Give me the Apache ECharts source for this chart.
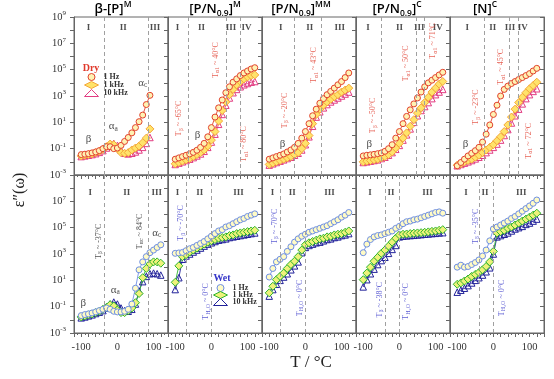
<!DOCTYPE html>
<html><head><meta charset="utf-8">
<script src="https://cdn.jsdelivr.net/npm/echarts@6/dist/echarts.min.js"></script>
<style>html,body{margin:0;padding:0;background:#fff}#c{width:554px;height:379px}</style>
</head><body><div id="c"></div>
<script>
// ---------- temperatures (°C) ----------
const tempsDryBP = [-100,-90,-80,-70,-60,-50,-40,-30,-20,-10,0,10,20,30,40,50,60,70,80,90];
const temps = [-100,-90,-80,-70,-60,-50,-40,-30,-20,-10,0,10,20,30,40,50,60,70,80,90,100,110,120];

// ---------- log10 ε'' values, DRY (top row) ----------
const dry_bPM_1Hz   = [-1.45,-1.42,-1.38,-1.32,-1.25,-1.15,-1.0,-0.85,-0.85,-1.0,-0.95,-0.75,-0.45,-0.15,0.2,0.6,1.05,1.55,2.35,3.05];
const dry_bPM_1kHz  = [-1.55,-1.5,-1.45,-1.4,-1.3,-1.2,-1.05,-0.85,-0.65,-0.7,-1.0,-1.3,-1.35,-1.3,-1.1,-0.95,-0.8,-0.55,-0.2,0.5];
const dry_bPM_10kHz = [-1.6,-1.55,-1.5,-1.45,-1.38,-1.28,-1.15,-0.95,-0.75,-0.6,-0.75,-1.1,-1.35,-1.4,-1.35,-1.25,-1.1,-0.9,-0.6,-0.15];

const dry_PNM_1Hz   = [-1.8,-1.7,-1.6,-1.5,-1.4,-1.28,-1.12,-0.9,-0.6,-0.1,0.6,1.4,2.1,2.7,3.25,3.7,4.05,4.3,4.55,4.75,4.9,5.05,5.15];
const dry_PNM_1kHz  = [-2.15,-2.05,-1.95,-1.85,-1.75,-1.6,-1.45,-1.3,-1.1,-0.8,-0.35,0.3,1.1,1.9,2.55,3.1,3.5,3.85,4.1,4.3,4.45,4.55,4.6];
const dry_PNM_10kHz = [-2.2,-2.1,-2.0,-1.9,-1.8,-1.68,-1.55,-1.4,-1.2,-0.9,-0.5,0.1,0.85,1.6,2.3,2.85,3.25,3.5,3.7,3.85,3.95,4.05,4.1];

const dry_PNMM_1Hz   = [-1.8,-1.7,-1.6,-1.5,-1.4,-1.25,-1.1,-0.9,-0.6,-0.2,0.3,0.9,1.5,2.0,2.45,2.8,3.1,3.35,3.6,3.85,4.1,4.4,4.75];
const dry_PNMM_1kHz  = [-2.2,-2.1,-2.0,-1.9,-1.8,-1.7,-1.6,-1.45,-1.3,-1.0,-0.6,0.0,0.9,1.6,2.0,2.3,2.55,2.75,2.95,3.1,3.3,3.45,3.6];
const dry_PNMM_10kHz = [-2.25,-2.15,-2.05,-1.95,-1.85,-1.75,-1.65,-1.5,-1.35,-1.1,-0.7,-0.1,0.7,1.4,1.8,2.1,2.35,2.55,2.7,2.85,3.0,3.15,3.3];

const dry_PNC_1Hz   = [-1.55,-1.5,-1.47,-1.43,-1.38,-1.32,-1.2,-1.0,-0.7,-0.2,0.3,0.9,1.45,1.95,2.4,2.85,3.3,3.7,4.0,4.2,4.4,4.6,4.8];
const dry_PNC_1kHz  = [-2.0,-1.95,-1.9,-1.85,-1.8,-1.7,-1.6,-1.45,-1.25,-0.95,-0.6,-0.2,0.2,0.7,1.2,1.7,2.1,2.5,2.9,3.3,3.6,3.9,4.1];
const dry_PNC_10kHz = [-2.05,-2.0,-1.95,-1.9,-1.85,-1.75,-1.65,-1.5,-1.3,-1.05,-0.75,-0.35,0.05,0.5,1.0,1.5,1.9,2.2,2.5,2.8,3.1,3.3,3.5];

const dry_NC_1Hz   = [-2.3,-2.05,-1.8,-1.55,-1.35,-1.15,-0.9,-0.5,0.1,0.8,1.6,2.3,3.0,3.5,3.75,3.95,4.1,4.25,4.4,4.55,4.7,4.9,5.1];
const dry_NC_1kHz  = [-2.25,-2.15,-2.0,-1.9,-1.8,-1.65,-1.5,-1.3,-1.1,-0.9,-0.7,-0.4,-0.1,0.3,0.8,1.4,2.0,2.5,2.9,3.25,3.55,3.8,4.05];
const dry_NC_10kHz = [-2.3,-2.2,-2.1,-2.0,-1.9,-1.78,-1.65,-1.5,-1.3,-1.1,-0.9,-0.65,-0.35,0.0,0.45,0.95,1.5,2.0,2.4,2.8,3.1,3.35,3.55];

// ---------- log10 ε'' values, WET (bottom row) ----------
const wet_bPM_1Hz   = [-1.68,-1.6,-1.55,-1.48,-1.4,-1.3,-1.2,-1.1,-1.2,-1.35,-1.4,-1.4,-1.35,-1.2,-0.8,0.4,1.8,2.4,2.8,3.1,3.3,3.5,3.7];
const wet_bPM_1kHz  = [-1.78,-1.7,-1.62,-1.55,-1.45,-1.35,-1.2,-1.05,-0.85,-0.95,-1.25,-1.45,-1.45,-1.3,-1.1,-0.7,0.0,1.2,1.9,2.25,2.4,2.4,2.3];
const wet_bPM_10kHz = [-1.85,-1.78,-1.7,-1.62,-1.52,-1.42,-1.3,-1.1,-0.8,-0.65,-0.8,-1.1,-1.3,-1.35,-1.2,-0.8,0.2,0.9,1.3,1.5,1.55,1.5,1.4];

const wet_PNM_1Hz   = [3.05,3.08,3.12,3.25,3.4,3.5,3.65,3.8,3.95,4.15,4.35,4.55,4.75,4.85,5.05,5.15,5.3,5.45,5.6,5.7,5.85,5.95,6.05];
const wet_PNM_1kHz  = [0.85,2.1,2.8,2.95,3.15,3.3,3.45,3.6,3.75,3.9,4.0,4.1,4.2,4.25,4.3,4.4,4.45,4.55,4.6,4.65,4.7,4.75,4.8];
const wet_PNM_10kHz = [0.3,1.2,2.6,2.85,3.0,3.15,3.3,3.45,3.6,3.75,3.85,3.95,4.05,4.1,4.15,4.25,4.3,4.35,4.4,4.45,4.5,4.55,4.6];

const wet_PNMM_1Hz   = [1.25,1.9,2.4,2.6,2.8,3.2,3.55,3.9,4.15,4.35,4.5,4.65,4.75,4.85,4.95,5.05,5.15,5.3,5.45,5.6,5.8,5.95,6.15];
const wet_PNMM_1kHz  = [0.05,0.55,1.05,1.3,1.55,1.9,2.2,2.45,2.8,3.3,3.7,3.85,3.95,4.05,4.15,4.2,4.3,4.35,4.45,4.5,4.55,4.65,4.75];
const wet_PNMM_10kHz = [-0.2,0.3,0.7,1.0,1.25,1.5,1.8,2.1,2.4,3.1,3.5,3.65,3.75,3.85,3.9,4.0,4.1,4.15,4.25,4.3,4.4,4.45,4.55];

const wet_PNC_1Hz   = [3.1,3.75,4.1,4.3,4.4,4.45,4.55,4.65,4.75,4.95,5.1,5.3,5.45,5.5,5.6,5.65,5.75,5.85,5.95,6.05,6.15,6.2,6.1];
const wet_PNC_1kHz  = [1.05,1.55,2.0,2.45,2.75,3.05,3.3,3.6,3.9,4.2,4.45,4.5,4.52,4.55,4.58,4.6,4.62,4.65,4.68,4.72,4.75,4.8,4.85];
const wet_PNC_10kHz = [0.5,1.05,1.5,1.85,2.2,2.5,2.75,3.05,3.35,3.65,4.3,4.35,4.38,4.4,4.42,4.45,4.47,4.5,4.52,4.55,4.57,4.6,4.62];

const wet_NC_1Hz   = [2.0,2.15,2.0,2.05,2.2,2.35,2.55,2.85,3.3,4.0,4.9,5.05,5.2,5.35,5.5,5.7,5.85,6.05,6.25,6.45,6.65,6.85,7.1];
const wet_NC_1kHz  = [0.7,0.8,0.95,1.1,1.3,1.45,1.6,1.8,2.05,2.4,3.2,4.6,4.7,4.8,4.95,5.05,5.2,5.35,5.5,5.65,5.8,5.95,6.1];
const wet_NC_10kHz = [0.1,0.25,0.4,0.6,0.8,1.0,1.2,1.4,1.65,1.95,3.0,4.3,4.4,4.5,4.6,4.75,4.9,5.0,5.1,5.25,5.35,5.5,5.65];

// ---------- labels ----------
const panelTitles = ['{m|β-[P]}{p|M}','{m|[P/N}{b|0.9}{m|]}{p|M}','{m|[P/N}{b|0.9}{m|]}{p|MM}','{m|[P/N}{b|0.9}{m|]}{p|C}','{m|[N]}{p|C}'];
const freqNames = ['1 Hz','1 kHz','10 kHz'];
const yExpTicks = [-3,-1,1,3,5,7,9];
const xTickLabels = [-100,0,100];

// ---------- annotations (text, positions in data units) ----------
const regionLabels = [
 [0,[['I',-80],['II',16],['III',104]]],
 [1,[['I',-94],['II',-27],['III',54],['IV',97]]],
 [2,[['I',-68],['II',12],['III',95]]],
 [3,[['I',-87],['II',0],['III',55],['IV',106]]],
 [4,[['I',-72],['II',-2],['III',46],['IV',81]]],
 [5,[['I',-75],['II',26],['III',109]]],
 [6,[['I',-94],['II',-32],['III',75]]],
 [7,[['I',-91],['II',-36],['III',67]]],
 [8,[['I',-81],['II',-23],['III',78]]],
 [9,[['I',-76],['II',-23],['III',77]]]
];
const dashedLines = [[-37,84],[-65,40,80],[-32,43],[-50,48,69],[-26,43,70],[-37,84],[-70,0],[-70,0],[-38,0],[-38,0]];
const transLabels = [
 [1,-89,1.29,'β',' ~ -65°C'],[1,12,5.73,'α1',' ~ 40°C'],[1,91,-0.65,'α1',' ~ 80°C'],
 [2,-57,1.9,'β',' ~ -20°C'],[2,24,5.35,'α1',' ~ 43°C'],
 [3,-73,1.52,'β',' ~ -50°C'],[3,19,5.48,'α1',' ~ 50°C'],[3,94,7.2,'α1',' ~ 71°C'],
 [4,-47,2.16,'β',' ~ -23°C'],[4,22,5.22,'α1',' ~ 45°C'],[4,98,-0.4,'α1',' ~ 72°C'],
 [5,-52,3.96,'β',' ~ -37°C'],[5,61,4.72,'αc',' ~ 84°C'],
 [6,-84,5.36,'β',' ~ -70°C'],[6,-15,-0.6,'H₂O',' ~ 0°C'],
 [7,-85,5.1,'β',' ~ -70°C'],[7,-16,-0.34,'H₂O',' ~ 0°C'],
 [8,-55,-0.47,'β',' ~ -38°C'],[8,19,-0.6,'H₂O',' ~ 0°C'],
 [9,-49,5.1,'β',' ~ -35°C'],[9,23,-0.34,'H₂O',' ~ 0°C']
];
const relaxLabels = [
 [0,-80,-0.27,'β',''],[0,-11,0.68,'α','a'],[0,70,4.0,'α','c'],
 [1,-38,0.04,'β',''],[2,-63,-0.65,'β',''],[3,-83,-0.65,'β',''],[4,-77,-0.65,'β',''],
 [5,-94,-0.72,'β',''],[5,-6,0.29,'α','a'],[5,109,4.6,'α','c']
];

// ---------- build ----------
const SERIF = "'Liberation Serif','DejaVu Serif',serif";
const SANS = "'Open Sans','Noto Sans',sans-serif";
const AX = '#666';

const panels = [
 {g:0,T:tempsDryBP,d:[dry_bPM_1Hz,dry_bPM_1kHz,dry_bPM_10kHz],wet:false},
 {g:1,T:temps,d:[dry_PNM_1Hz,dry_PNM_1kHz,dry_PNM_10kHz],wet:false},
 {g:2,T:temps,d:[dry_PNMM_1Hz,dry_PNMM_1kHz,dry_PNMM_10kHz],wet:false},
 {g:3,T:temps,d:[dry_PNC_1Hz,dry_PNC_1kHz,dry_PNC_10kHz],wet:false},
 {g:4,T:temps,d:[dry_NC_1Hz,dry_NC_1kHz,dry_NC_10kHz],wet:false},
 {g:5,T:temps,d:[wet_bPM_1Hz,wet_bPM_1kHz,wet_bPM_10kHz],wet:true},
 {g:6,T:temps,d:[wet_PNM_1Hz,wet_PNM_1kHz,wet_PNM_10kHz],wet:true},
 {g:7,T:temps,d:[wet_PNMM_1Hz,wet_PNMM_1kHz,wet_PNMM_10kHz],wet:true},
 {g:8,T:temps,d:[wet_PNC_1Hz,wet_PNC_1kHz,wet_PNC_10kHz],wet:true},
 {g:9,T:temps,d:[wet_NC_1Hz,wet_NC_1kHz,wet_NC_10kHz],wet:true}
];
const styles = {
 dry:[{symbol:'circle',size:6,fill:'#fff2b3',border:'#e2432e'},
      {symbol:'diamond',size:8,fill:'#ffe36a',border:'#f4a73a'},
      {symbol:'triangle',size:6.5,fill:'rgba(255,255,255,0)',border:'#e23c82'}],
 wet:[{symbol:'circle',size:6,fill:'#fffbc6',border:'#6e8fe4'},
      {symbol:'diamond',size:8,fill:'#eef27a',border:'#2eb52e'},
      {symbol:'triangle',size:6.5,fill:'rgba(255,255,255,0)',border:'#22229a'}]
};

const grids=[], xAxes=[], yAxes=[], series=[];
for (let i=0;i<10;i++){
  const row = i<5?0:1, col=i%5;
  grids.push({left:74+col*94, top:row?175:17, width:94, height:158, show:true, borderColor:AX, borderWidth:1});
  xAxes.push({gridIndex:i,type:'value',min:-120,max:140,interval:20,
    axisLine:{show:true,onZero:false,lineStyle:{color:AX}},
    axisTick:{show:true,inside:false,length:4,lineStyle:{color:AX}},
    minorTick:{show:true,splitNumber:2,length:2,lineStyle:{color:AX}},
    splitLine:{show:false},minorSplitLine:{show:false},
    axisLabel:{show:row===1,margin:9,fontFamily:SERIF,fontSize:10.5,color:'#333',
      formatter:v=>xTickLabels.indexOf(v)>=0?String(v):''}});
  yAxes.push({gridIndex:i,type:'value',position:'right',min:-3,max:9,interval:1,
    axisLine:{show:true,onZero:false,lineStyle:{color:AX}},axisTick:{show:true,inside:true,length:4,lineStyle:{color:AX}},
    axisLabel:{show:false},splitLine:{show:false}});
}
const expRich = {b:{fontFamily:SERIF,fontSize:10.5,color:'#333',lineHeight:14},
                 e:{fontFamily:SERIF,fontSize:7,color:'#333',lineHeight:8,verticalAlign:'top'}};
[0,5].forEach(g=>{
  yAxes.push({gridIndex:g,type:'value',position:'left',min:-3,max:9,interval:1,
    axisLine:{show:true,onZero:false,lineStyle:{color:AX}},axisTick:{show:true,inside:false,length:4,lineStyle:{color:AX}},
    splitLine:{show:false},
    axisLabel:{margin:8,rich:expRich,formatter:v=>(yExpTicks.indexOf(v)>=0 && !(g===5&&v===9))?'{b|10}{e|'+v+'}':''}});
});

panels.forEach(p=>{
  const st = p.wet?styles.wet:styles.dry;
  const prefix = p.wet?'Wet ':'Dry ';
  [2,1,0].forEach(k=>{
    const s = st[k];
    series.push({type:'line',name:prefix+freqNames[k],xAxisIndex:p.g,yAxisIndex:p.g,
      data:p.T.map((t,j)=>[t,p.d[k][j]]),symbol:s.symbol,symbolSize:s.size,showAllSymbol:true,
      itemStyle:{color:s.fill,borderColor:s.border,borderWidth:1},
      lineStyle:{color:s.border,width:0.9},silent:true,animation:false,emphasis:{disabled:true}});
  });
});

for (let g=0; g<10; g++){
  const row = g<5?0:1;
  const data=[];
  const rl = regionLabels.find(r=>r[0]===g)[1];
  rl.forEach(([t,x])=>data.push({value:[x,row?7.69:8.18],label:{show:true,position:'inside',formatter:t,
     fontFamily:SERIF,fontSize:9,fontWeight:'bold',color:'#222'}}));
  transLabels.filter(r=>r[0]===g).forEach(([,x,y,sub,txt])=>{
    const c = g<5?'#e0392b':(g===5?'#222':'#3535c8');
    data.push({value:[x,y],label:{show:true,position:'inside',rotate:90,
      formatter:'{t|T}{s|'+sub+'}{t|'+txt+'}',
      rich:{t:{fontFamily:SERIF,fontSize:8,color:c,lineHeight:10},
            s:{fontFamily:SERIF,fontSize:6,color:c,lineHeight:6,verticalAlign:'bottom'}}}});
  });
  relaxLabels.filter(r=>r[0]===g).forEach(([,x,y,gr,sub])=>{
    data.push({value:[x,y],label:{show:true,position:'inside',
      formatter:'{g|'+gr+'}'+(sub?'{s|'+sub+'}':''),
      rich:{g:{fontFamily:SERIF,fontSize:11,color:'#222',lineHeight:13},
            s:{fontFamily:SERIF,fontSize:7.5,color:'#222',lineHeight:7,verticalAlign:'bottom'}}}});
  });
  series.push({type:'scatter',xAxisIndex:g,yAxisIndex:g,symbolSize:0,data,silent:true,animation:false,z:1,
    markLine:{silent:true,symbol:['none','none'],label:{show:false},animation:false,
      lineStyle:{type:[4,3],color:'#a0a0a0',width:1},
      data:dashedLines[g].map(x=>({xAxis:x}))}});
}

function legendItems(prefix, st){
  return freqNames.map((n,k)=>({name:prefix+n,icon:st[k].symbol,
    itemStyle:{color:st[k].fill,borderColor:st[k].border,borderWidth:1}}));
}
const legendText = {fontFamily:SERIF,fontSize:8,fontWeight:'bold',color:'#333'};
const legends = [
  {left:84,top:73,orient:'vertical',itemWidth:14,itemHeight:7,itemGap:0,padding:0,selectedMode:false,
   textStyle:legendText,formatter:n=>n.replace(/^Dry /,''),data:legendItems('Dry ',styles.dry)},
  {left:213,top:284,orient:'vertical',itemWidth:14,itemHeight:7,itemGap:-1,padding:0,selectedMode:false,
   textStyle:legendText,formatter:n=>n.replace(/^Wet /,''),data:legendItems('Wet ',styles.wet)}
];

const titleRich = {
  m:{fontFamily:SANS,fontSize:13,fontWeight:600,color:'#222',lineHeight:18},
  p:{fontFamily:SANS,fontSize:8.5,fontWeight:600,color:'#222',lineHeight:10,verticalAlign:'top'},
  b:{fontFamily:SANS,fontSize:8.5,fontWeight:600,color:'#222',lineHeight:10,verticalAlign:'bottom'}
};
const titleX = [113,215,301,397,485];
const graphics = panelTitles.map((t,i)=>({type:'text',x:titleX[i],y:9,
  style:{text:t,rich:titleRich,align:'center',verticalAlign:'middle',textAlign:'center',textVerticalAlign:'middle'}}));
graphics.push({type:'text',x:91,y:68,style:{text:'Dry',font:"bold 10px 'Liberation Serif'",fill:'#e0392b',align:'center',verticalAlign:'middle',textAlign:'center',textVerticalAlign:'middle'}});
graphics.push({type:'text',x:222,y:278,style:{text:'Wet',font:"bold 10px 'Liberation Serif'",fill:'#3535c8',align:'center',verticalAlign:'middle',textAlign:'center',textVerticalAlign:'middle'}});
graphics.push({type:'text',x:311,y:363,style:{text:'T / °C',font:"17px 'Liberation Serif'",fill:'#222',align:'center',verticalAlign:'middle',textAlign:'center',textVerticalAlign:'middle'}});
graphics.push({type:'text',x:20,y:190,rotation:Math.PI/2,style:{text:'ε″(ω)',font:"16px 'Liberation Serif'",fill:'#222',align:'center',verticalAlign:'middle',textAlign:'center',textVerticalAlign:'middle'}});

const chart = echarts.init(document.getElementById('c'));
chart.setOption({backgroundColor:'#fff',animation:false,grid:grids,xAxis:xAxes,yAxis:yAxes,
  legend:legends,series,graphic:graphics});
</script></body></html>
